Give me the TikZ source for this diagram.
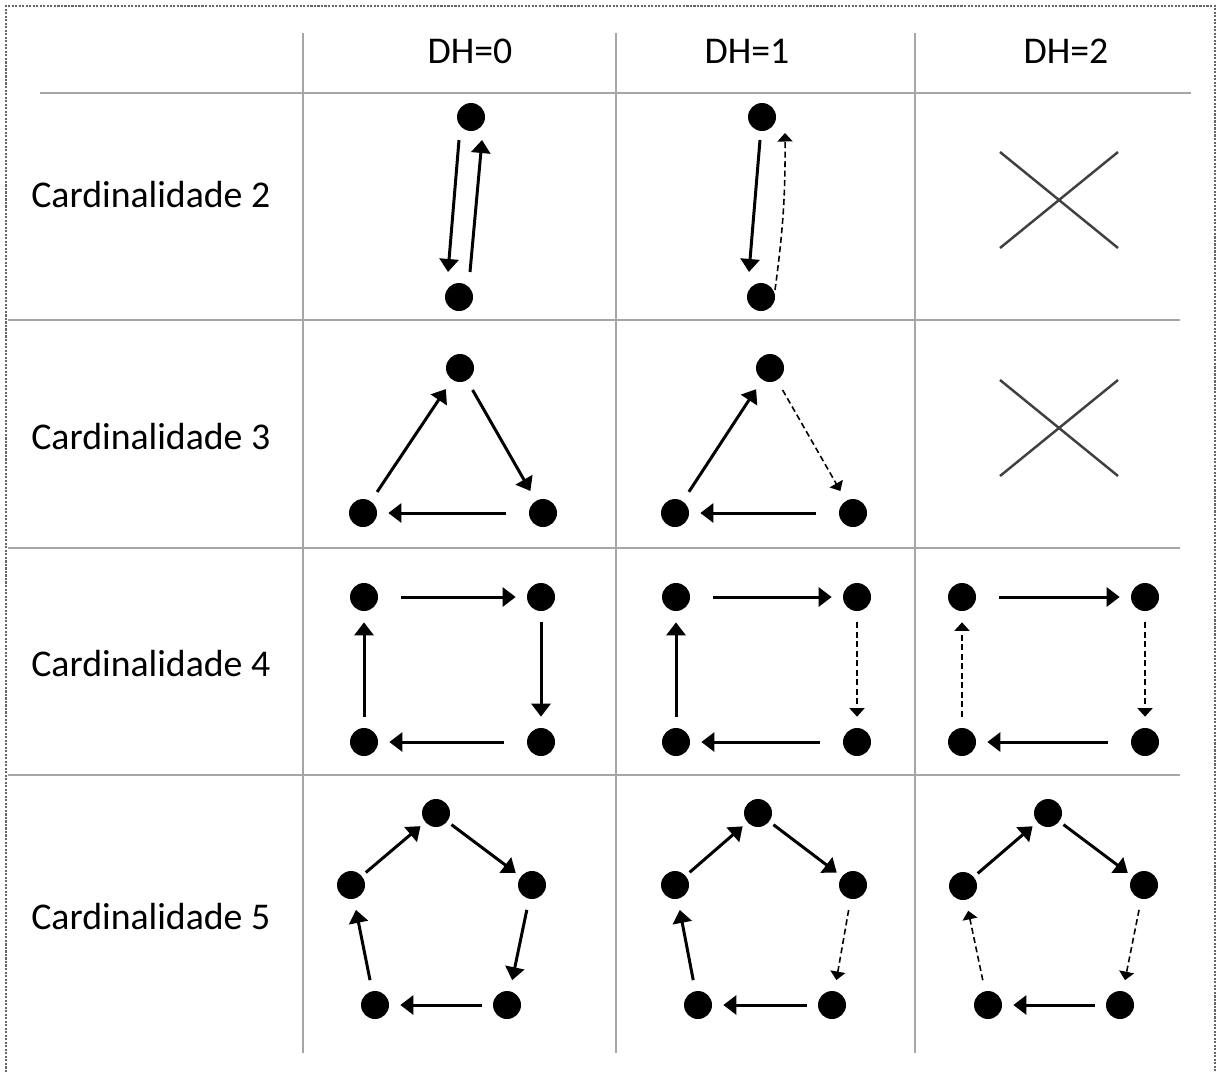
\documentclass[tikz,border=0pt]{standalone}
\usepackage{fontspec}
\setmainfont{Carlito}
\usetikzlibrary{arrows.meta}

% table columns and rows (1 unit = 1 px)
\def\ColA{303}
\def\ColB{616}
\def\ColC{915}

\begin{document}
\begin{tikzpicture}[x=0.02cm, y=-0.02cm,
    every node/.style={inner sep=0pt, font=\fontsize{21.5pt}{26pt}\selectfont},
    dot/.style={circle, fill=black, minimum size=0.56cm},
    grid/.style={draw=gray!70, line width=1.1pt},
    arc/.style={-{Triangle[length=0.26cm,width=0.38cm]}, line width=1.7pt, shorten <=0.22cm, shorten >=0.22cm},
    weak/.style={-{Triangle[length=0.17cm,width=0.3cm]}, line width=0.9pt, dash pattern=on 0.12cm off 0.07cm, shorten <=0.22cm, shorten >=0.22cm},
    far/.style={shorten <=0.46cm},
    near/.style={shorten <=0.1cm, shorten >=0.12cm},
    cross/.style={draw=black!75, line width=1.4pt}]
    \useasboundingbox (0,0) rectangle (1219,1072);

    % frame and table
    \draw[black!60, line width=0.6pt, dash pattern=on 1.2pt off 0.8pt] (6,1072) -- (6,6) -- (1215,6) -- (1215,1072);
    \foreach \x in {\ColA,\ColB,\ColC}
        \draw[grid] (\x,33) -- (\x,1053);
    \draw[grid] (40,93) -- (1191,93);
    \foreach \y in {320,548,775}
        \draw[grid] (8,\y) -- (1180,\y);

    \node[anchor=base] (H0) at (470,63) {DH=0};
    \node[anchor=base] (H1) at (747,63) {DH=1};
    \node[anchor=base] (H2) at (1066,63) {DH=2};

    \node[anchor=base west] (K2) at (31,207) {Cardinalidade 2};
    \node[anchor=base west] (K3) at (31,449) {Cardinalidade 3};
    \node[anchor=base west] (K4) at (31,676) {Cardinalidade 4};
    \node[anchor=base west] (K5) at (31,929) {Cardinalidade 5};

    % cardinality 2
    \node[dot] (A2t) at (471,117) {};
    \node[dot] (A2b) at (459,297) {};
    \draw[arc, shorten <=0pt, shorten >=0pt] ([shift={(-12,23)}]A2t.center) -- ([shift={(-11,-25)}]A2b.center);
    \draw[arc, shorten <=0pt, shorten >=0pt] ([shift={(11,-25)}]A2b.center) -- ([shift={(11,23)}]A2t.center);

    \node[dot] (B2t) at (762,117) {};
    \node[dot] (B2b) at (761,297) {};
    \draw[arc, shorten <=0pt, shorten >=0pt] ([shift={(-2,23)}]B2t.center) -- ([shift={(-12,-25)}]B2b.center);
    \draw[weak, shorten <=0pt, shorten >=0pt] ([shift={(14,-7)}]B2b.center) to[bend right=4] ([shift={(23,16)}]B2t.center);

    \draw[cross] (1000,152) -- (1118,248);
    \draw[cross] (1000,248) -- (1118,152);

    % cardinality 3
    \node[dot] (A3t) at (460,368) {};
    \node[dot] (A3l) at (363,513) {};
    \node[dot] (A3r) at (543,513) {};
    \draw[arc] (A3l) -- (A3t);
    \draw[arc] (A3t) -- (A3r);
    \draw[arc, far] (A3r) -- (A3l);

    \node[dot] (B3t) at (770,368) {};
    \node[dot] (B3l) at (675,513) {};
    \node[dot] (B3r) at (853,513) {};
    \draw[arc] (B3l) -- (B3t);
    \draw[weak] (B3t) -- (B3r);
    \draw[arc, far] (B3r) -- (B3l);

    \draw[cross] (1000,380) -- (1118,476);
    \draw[cross] (1000,476) -- (1118,380);

    % cardinality 4
    \node[dot] (A4a) at (364,597) {};
    \node[dot] (A4b) at (541,597) {};
    \node[dot] (A4c) at (541,742) {};
    \node[dot] (A4d) at (364,742) {};
    \draw[arc, far] (A4a) -- (A4b);
    \draw[arc] (A4b) -- (A4c);
    \draw[arc, far] (A4c) -- (A4d);
    \draw[arc] (A4d) -- (A4a);

    \node[dot] (B4a) at (676,597) {};
    \node[dot] (B4b) at (857,597) {};
    \node[dot] (B4c) at (857,742) {};
    \node[dot] (B4d) at (676,742) {};
    \draw[arc, far] (B4a) -- (B4b);
    \draw[weak] (B4b) -- (B4c);
    \draw[arc, far] (B4c) -- (B4d);
    \draw[arc] (B4d) -- (B4a);

    \node[dot] (C4a) at (962,597) {};
    \node[dot] (C4b) at (1145,597) {};
    \node[dot] (C4c) at (1145,742) {};
    \node[dot] (C4d) at (962,742) {};
    \draw[arc, far] (C4a) -- (C4b);
    \draw[weak] (C4b) -- (C4c);
    \draw[arc, far] (C4c) -- (C4d);
    \draw[weak] (C4d) -- (C4a);

    % cardinality 5
    \node[dot] (A5a) at (436,813) {};
    \node[dot] (A5b) at (532,885) {};
    \node[dot] (A5c) at (507,1005) {};
    \node[dot] (A5d) at (375,1005) {};
    \node[dot] (A5e) at (351,885) {};
    \draw[arc, near] (A5e) -- (A5a);
    \draw[arc, near] (A5a) -- (A5b);
    \draw[arc] (A5b) -- (A5c);
    \draw[arc] (A5c) -- (A5d);
    \draw[arc] (A5d) -- (A5e);

    \node[dot] (B5a) at (758,813) {};
    \node[dot] (B5b) at (853,885) {};
    \node[dot] (B5c) at (832,1005) {};
    \node[dot] (B5d) at (698,1005) {};
    \node[dot] (B5e) at (675,885) {};
    \draw[arc, near] (B5e) -- (B5a);
    \draw[arc, near] (B5a) -- (B5b);
    \draw[weak] (B5b) -- (B5c);
    \draw[arc] (B5c) -- (B5d);
    \draw[arc] (B5d) -- (B5e);

    \node[dot] (C5a) at (1048,813) {};
    \node[dot] (C5b) at (1144,885) {};
    \node[dot] (C5c) at (1120,1005) {};
    \node[dot] (C5d) at (988,1005) {};
    \node[dot] (C5e) at (963,886) {};
    \draw[arc, near] (C5e) -- (C5a);
    \draw[arc, near] (C5a) -- (C5b);
    \draw[weak] (C5b) -- (C5c);
    \draw[arc] (C5c) -- (C5d);
    \draw[weak] (C5d) -- (C5e);
\end{tikzpicture}
\end{document}
